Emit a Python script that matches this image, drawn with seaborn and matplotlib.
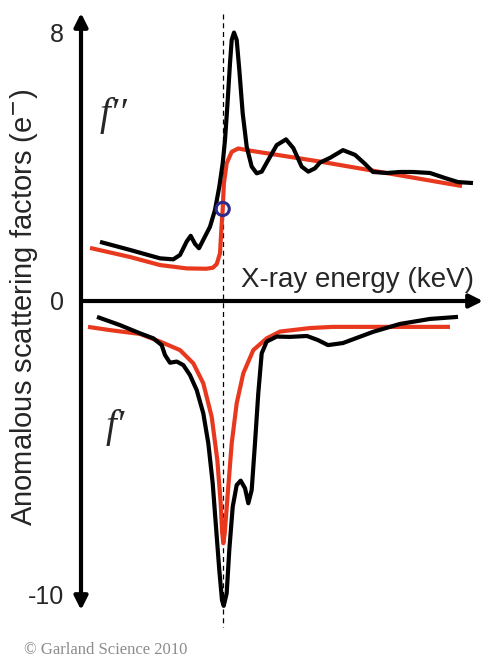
import numpy as np
import pandas as pd
import matplotlib
matplotlib.use("Agg")
import matplotlib.pyplot as plt
import seaborn as sns

# ---- data (energy in arbitrary units, scattering factors in electrons) ----
fpp_black_x = [4.73, 12.19, 19.65, 22.96, 24.63, 26.29, 27.29, 28.36, 29.35, 30.42, 32.09, 33.33,
               34.40, 35.25, 35.82, 36.39, 37.06, 37.49, 38.06, 38.73, 39.38, 40.22, 41.22, 42.46,
               43.71, 44.95, 46.59, 48.68, 51.00, 52.81, 54.90, 56.54, 58.21, 59.45, 61.94, 65.17,
               68.16, 70.65, 72.64, 76.12, 79.35, 82.59, 86.82, 90.55, 93.78, 97.51]
fpp_black_y = [1.76, 1.52, 1.27, 1.24, 1.37, 1.77, 1.94, 1.70, 1.57, 1.82, 2.21, 2.71,
               3.40, 4.10, 4.79, 5.78, 7.07, 7.77, 7.99, 7.77, 6.88, 5.59, 4.59, 4.00,
               3.80, 3.85, 4.20, 4.64, 4.81, 4.55, 4.00, 3.85, 3.95, 4.12, 4.26, 4.49,
               4.35, 4.08, 3.84, 3.81, 3.84, 3.84, 3.81, 3.66, 3.54, 3.51]

fpp_red_x = [2.24, 12.19, 19.65, 26.29, 31.20, 32.80, 33.76, 34.58, 34.95, 35.25, 35.55, 36.24,
             37.49, 39.13, 41.22, 59.45, 94.78]
fpp_red_y = [1.58, 1.31, 1.07, 0.97, 0.96, 0.99, 1.10, 1.42, 2.20, 2.74, 3.50, 4.10,
             4.44, 4.54, 4.49, 4.15, 3.42]

fp_black_x = [3.98, 9.70, 14.68, 17.99, 20.07, 20.90, 22.14, 23.81, 25.45, 27.11, 28.78, 30.42,
              31.67, 32.76, 33.58, 34.40, 35.07, 35.50, 36.24, 36.89, 37.74, 38.73, 39.73, 40.80,
              41.62, 42.46, 43.28, 44.10, 44.95, 46.19, 48.68, 51.99, 56.22, 58.96, 61.44, 65.17,
              72.64, 79.35, 86.82, 93.78]
fp_black_y = [-0.54, -0.82, -1.10, -1.27, -1.50, -1.84, -2.10, -2.06, -2.18, -2.52, -3.03, -3.82,
              -4.84, -6.20, -7.68, -9.15, -10.17, -10.37, -9.94, -8.47, -7.00, -6.26, -6.11, -6.37,
              -6.88, -6.43, -4.84, -3.14, -1.78, -1.38, -1.21, -1.22, -1.19, -1.33, -1.50, -1.43,
              -1.05, -0.78, -0.61, -0.54]

fp_red_x = [1.74, 7.21, 14.68, 19.65, 24.63, 27.94, 30.42, 32.51, 33.91, 34.75, 35.10, 35.40,
            35.75, 36.20, 36.64, 37.49, 38.73, 40.37, 42.86, 46.19, 49.50, 56.97, 62.69, 91.79]
fp_red_y = [-0.88, -0.99, -1.12, -1.38, -1.67, -2.12, -2.80, -3.94, -5.41, -6.88, -7.85, -8.24,
            -7.90, -7.10, -6.32, -4.84, -3.48, -2.46, -1.67, -1.27, -1.04, -0.92, -0.88, -0.88]

edge_x = 35.25
edge_fpp = 2.74
ytick_vals = [8, 0, -10]
ytick_labels = ["8", "0", "-10"]

# ---- style ----
sns.set_theme(style="white")
plt.rcParams["font.family"] = ["Liberation Sans", "DejaVu Sans"]

W, H = 494, 663
fig = plt.figure(figsize=(W / 100, H / 100), dpi=100)
ax = fig.add_axes([81 / W, 1 - 610 / H, (483 - 81) / W, (610 - 13) / H])

# schematic axis: different spacing above / below zero
up, dn = 33.6, 29.4
def fwd(y):
    y = np.asarray(y, dtype=float)
    return np.where(y >= 0, y * up, y * dn)
def inv(t):
    t = np.asarray(t, dtype=float)
    return np.where(t >= 0, t / up, t / dn)
ax.set_yscale("function", functions=(fwd, inv))
ymax, ymin = 288 / up, -309 / dn
ax.set_xlim(0, 100)
ax.set_ylim(ymin, ymax)

red = "#E8391F"
lw = 3.0
def draw(xs, ys, color, z):
    df = pd.DataFrame({"x": xs, "y": ys})
    sns.lineplot(data=df, x="x", y="y", ax=ax, color=color, lw=lw, sort=False,
                 estimator=None, zorder=z, solid_capstyle="butt", solid_joinstyle="round")

draw(fpp_red_x, fpp_red_y, red, 3)
draw(fp_red_x, fp_red_y, red, 3)
draw(fpp_black_x, fpp_black_y, "black", 4)
draw(fp_black_x, fp_black_y, "black", 4)

# absorption edge
ax.plot([edge_x, edge_x], [ymax - 0.03, -326 / dn], ls=(0, (4, 3)), lw=0.9, color="black",
        clip_on=False, zorder=2)
ax.scatter([edge_x], [edge_fpp], s=90, facecolors="none", edgecolors="#2B2A8E", linewidths=2.2,
           zorder=6)

# axes with arrows
for s in ax.spines.values():
    s.set_visible(False)
ax.annotate("", xy=(100, 0), xytext=(0, 0),
            arrowprops=dict(arrowstyle="-|>", lw=3, color="black", mutation_scale=20,
                            shrinkA=0, shrinkB=0), annotation_clip=False)
ax.annotate("", xy=(0, ymax), xytext=(0, ymin),
            arrowprops=dict(arrowstyle="<|-|>", lw=3, color="black", mutation_scale=20,
                            shrinkA=0, shrinkB=0), annotation_clip=False)

ax.set_xticks([])
ax.set_yticks(ytick_vals)
ax.set_yticklabels(ytick_labels, fontsize=18)
ax.tick_params(axis="y", length=0, pad=12)
ax.set_xlabel("")
ax.set_ylabel("")

fig.text(24 / W, 1 - 307 / H, "Anomalous scattering factors (e$^{-}$)", rotation=90,
         ha="center", va="center", fontsize=21)
fig.text(241 / W, 1 - 287 / H, "X-ray energy (keV)", ha="left", va="baseline", fontsize=20)

fig.text(113 / W, 1 - 116 / H, "f\u2032\u2032", ha="center", va="center", fontsize=28,
         family=["Liberation Serif", "DejaVu Serif"], style="italic")
fig.text(115 / W, 1 - 427 / H, "f\u2032", ha="center", va="center", fontsize=28,
         family=["Liberation Serif", "DejaVu Serif"], style="italic")

fig.text(24 / W, 1 - 654 / H, "\u00a9 Garland Science 2010", ha="left", va="baseline",
         fontsize=12, color="#8C8C8C", family=["Liberation Serif", "DejaVu Serif"])

fig.savefig("out.png", dpi=100)
